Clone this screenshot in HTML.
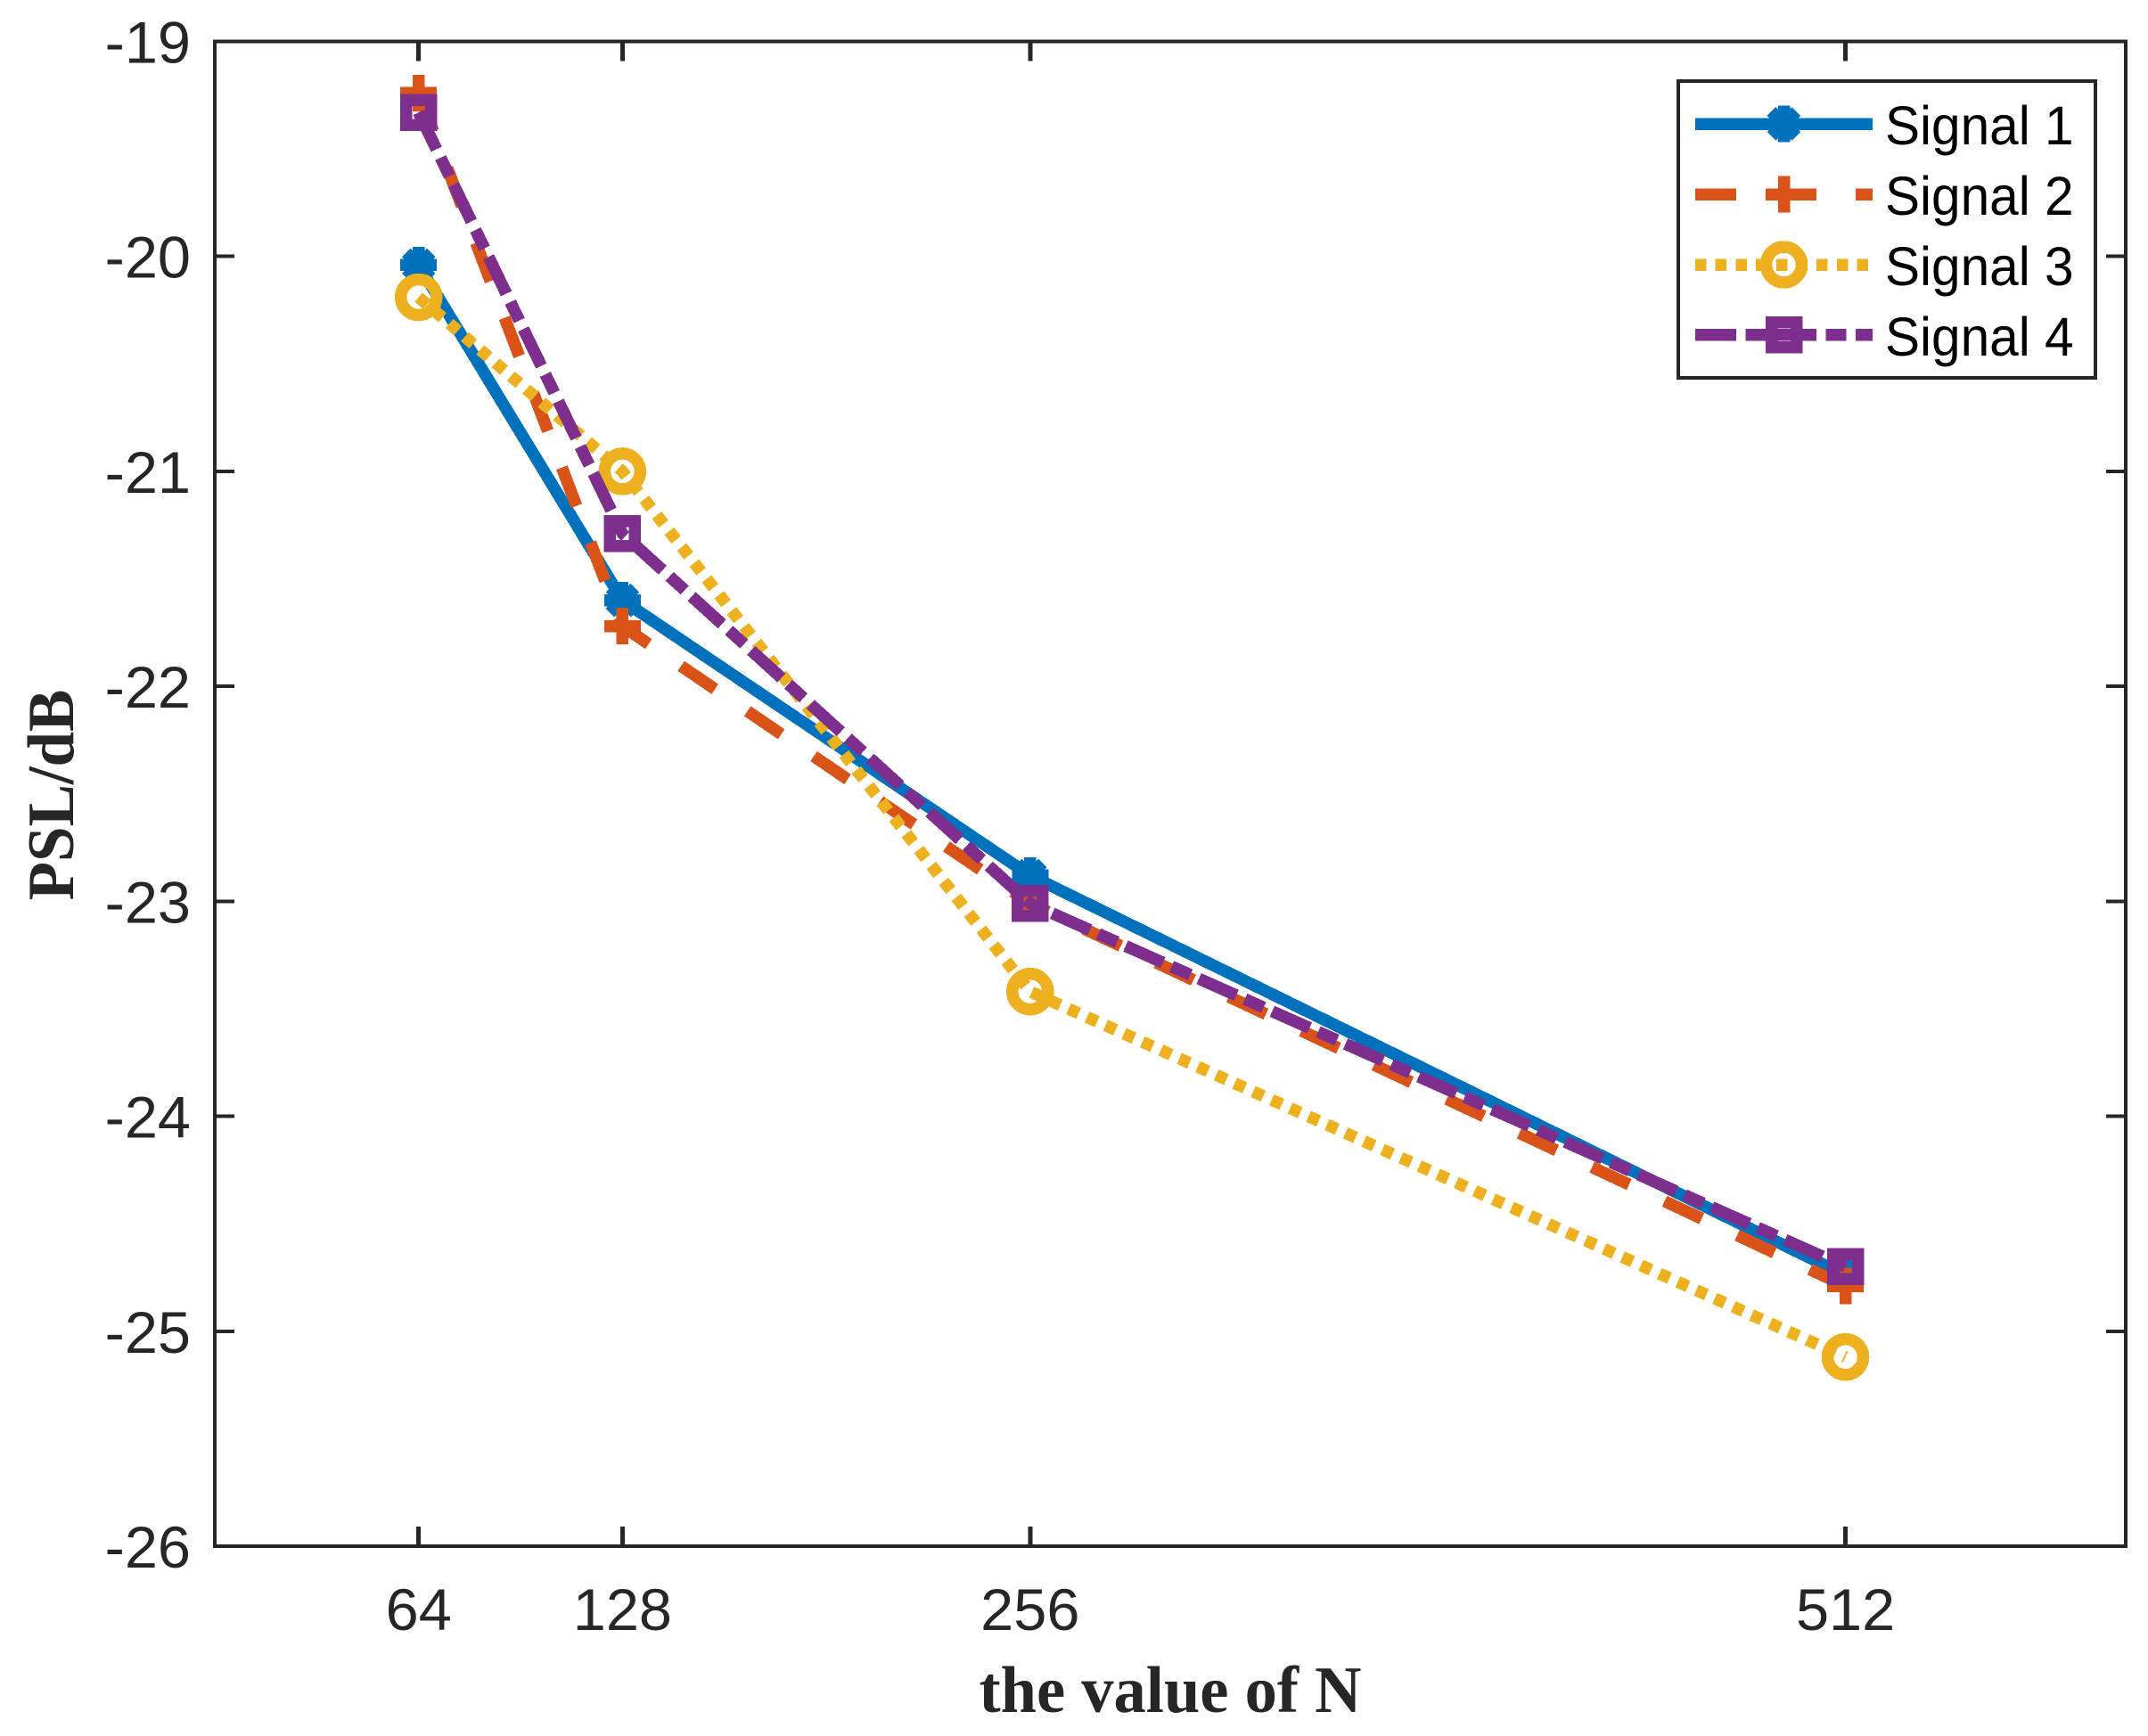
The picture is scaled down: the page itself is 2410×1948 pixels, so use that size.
<!DOCTYPE html>
<html>
<head>
<meta charset="utf-8">
<title>PSL vs N</title>
<style>
html,body{margin:0;padding:0;background:#fff;}
svg{display:block;}
.tick-label{font-family:"Liberation Sans",sans-serif;font-size:66px;fill:#262626;}
.legend-label{font-family:"Liberation Sans",sans-serif;font-size:61px;fill:#000;}
.axis-title{font-family:"Liberation Serif",serif;font-weight:bold;font-size:74px;fill:#262626;}
</style>
</head>
<body>
<svg id="chart" xmlns="http://www.w3.org/2000/svg" width="2410" height="1948" viewBox="0 0 2410 1948" shape-rendering="crispEdges">
  <rect x="0" y="0" width="2410" height="1948" fill="#ffffff"/>
  <g id="series-layer"></g>
  <g id="axes-layer">
    <rect x="241" y="46.5" width="2144" height="1688.5" fill="none" stroke="#262626" stroke-width="4"/>
  </g>
  <text class="axis-title" transform="translate(1313,1921) scale(0.98,1)" text-anchor="middle">the value of N</text>
  <text class="axis-title" transform="translate(82,892) rotate(-90) scale(0.96,1)" text-anchor="middle">PSL/dB</text>
  <g id="legend">
    <rect x="1883" y="91" width="468" height="333" fill="#ffffff" stroke="#262626" stroke-width="4"/>
    <g>
      <line x1="1902" y1="139" x2="2101" y2="139" stroke="#0072BD" stroke-width="13.5"/>
      <text class="legend-label" transform="translate(2115,162) scale(0.96,1)">Signal 1</text>
    </g>
    <g>
      <line x1="1902" y1="218" x2="2101" y2="218" stroke="#D95319" stroke-width="13.5" stroke-dasharray="46 44"/>
      <text class="legend-label" transform="translate(2115,241) scale(0.96,1)">Signal 2</text>
    </g>
    <g>
      <line x1="1902" y1="297" x2="2101" y2="297" stroke="#EDB120" stroke-width="13.5" stroke-dasharray="12.5 10.2"/>
      <text class="legend-label" transform="translate(2115,320) scale(0.96,1)">Signal 3</text>
    </g>
    <g>
      <line x1="1902" y1="375.5" x2="2101" y2="375.5" stroke="#7E2F8E" stroke-width="13.5" stroke-dasharray="46 10.5 23 10.5"/>
      <text class="legend-label" transform="translate(2115,399) scale(0.96,1)">Signal 4</text>
    </g>
  </g>
</svg>
<script>
var categories = [64, 128, 256, 512];
var signal1 = [-20.04, -21.60, -22.88, -24.74];
var signal2 = [-19.24, -21.72, -23.01, -24.79];
var signal3 = [-20.19, -21.00, -23.42, -25.12];
var signal4 = [-19.33, -21.29, -23.01, -24.70];
var xTickValues = [64, 128, 256, 512];
var yTickValues = [-19, -20, -21, -22, -23, -24, -25, -26];
var xMin = 0, xMax = 600, yMax = -19, yMin = -26;

var NS = 'http://www.w3.org/2000/svg';
var PX = {left: 241, right: 2385, top: 46.5, bottom: 1735};
var AXIS = '#262626';

function xScale(v) { return PX.left + (v - xMin) / (xMax - xMin) * (PX.right - PX.left); }
function yScale(v) { return PX.top + (yMax - v) / (yMax - yMin) * (PX.bottom - PX.top); }

function make(tag, attrs, parent) {
  var el = document.createElementNS(NS, tag);
  for (var k in attrs) el.setAttribute(k, attrs[k]);
  parent.appendChild(el);
  return el;
}

var axesLayer = document.getElementById('axes-layer');
var seriesLayer = document.getElementById('series-layer');
var legendLayer = document.getElementById('legend');

xTickValues.forEach(function (v) {
  var x = xScale(v);
  var low = make('line', {x1: x, x2: x, y1: PX.bottom, y2: PX.bottom - 22, stroke: AXIS, 'stroke-width': 5}, axesLayer);
  
  
  var high = make('line', {x1: x, x2: x, y1: PX.top, y2: PX.top + 22, stroke: AXIS, 'stroke-width': 5}, axesLayer);
  
  
  var label = make('text', {'class': 'tick-label', 'text-anchor': 'middle', transform: 'translate(' + x + ',1829) scale(1.01,1)'}, axesLayer);
  
  
  label.textContent = String(v);
});

yTickValues.forEach(function (v) {
  var y = yScale(v);
  var left = make('line', {x1: PX.left, x2: PX.left + 22, y1: y, y2: y, stroke: AXIS, 'stroke-width': 4}, axesLayer);
  
  
  var right = make('line', {x1: PX.right, x2: PX.right - 22, y1: y, y2: y, stroke: AXIS, 'stroke-width': 4}, axesLayer);
  
  
  var label = make('text', {'class': 'tick-label', 'text-anchor': 'end', transform: 'translate(214,' + (y + 24) + ') scale(1.01,1)'}, axesLayer);
  
  
  label.textContent = String(v);
});

function drawMarker(parent, kind, cx, cy, color) {
  var g = make('g', {fill: 'none', stroke: color, 'stroke-width': 13.5}, parent);
  
  
  var r = 20.5, d = 14;
  if (kind === 'asterisk') {
    make('line', {x1: cx - r, x2: cx + r, y1: cy, y2: cy}, g);
    make('line', {x1: cx, x2: cx, y1: cy - r, y2: cy + r}, g);
    make('line', {x1: cx - d, x2: cx + d, y1: cy - d, y2: cy + d}, g);
    make('line', {x1: cx - d, x2: cx + d, y1: cy + d, y2: cy - d}, g);
  } else if (kind === 'plus') {
    make('line', {x1: cx - r, x2: cx + r, y1: cy, y2: cy}, g);
    make('line', {x1: cx, x2: cx, y1: cy - r, y2: cy + r}, g);
  } else if (kind === 'circle') {
    make('circle', {cx: cx, cy: cy, r: 20}, g);
  } else {
    make('rect', {x: cx - 14, y: cy - 14, width: 28, height: 28}, g);
  }
}

function drawSeries(name, values, color, dash, kind) {
  var g = make('g', {}, seriesLayer);
  
  
  var pts = values.map(function (v, i) { return xScale(categories[i]) + ',' + yScale(v); }).join(' ');
  var line = make('polyline', {points: pts, fill: 'none', stroke: color, 'stroke-width': 13.5, 'stroke-linejoin': 'round'}, g);
  if (dash) line.setAttribute('stroke-dasharray', dash);
  
  
  values.forEach(function (v, i) {
    drawMarker(g, kind, xScale(categories[i]), yScale(v), color);
  });
}

drawSeries('series-signal-1', signal1, '#0072BD', '', 'asterisk');
drawSeries('series-signal-2', signal2, '#D95319', '46 44', 'plus');
drawSeries('series-signal-3', signal3, '#EDB120', '12.5 10.2', 'circle');
drawSeries('series-signal-4', signal4, '#7E2F8E', '46 10.5 23 10.5', 'square');

drawMarker(legendLayer, 'asterisk', 2001.5, 139, '#0072BD');
drawMarker(legendLayer, 'plus', 2001.5, 218, '#D95319');
drawMarker(legendLayer, 'circle', 2001.5, 297, '#EDB120');
drawMarker(legendLayer, 'square', 2001.5, 375.5, '#7E2F8E');
</script>
</body>
</html>
